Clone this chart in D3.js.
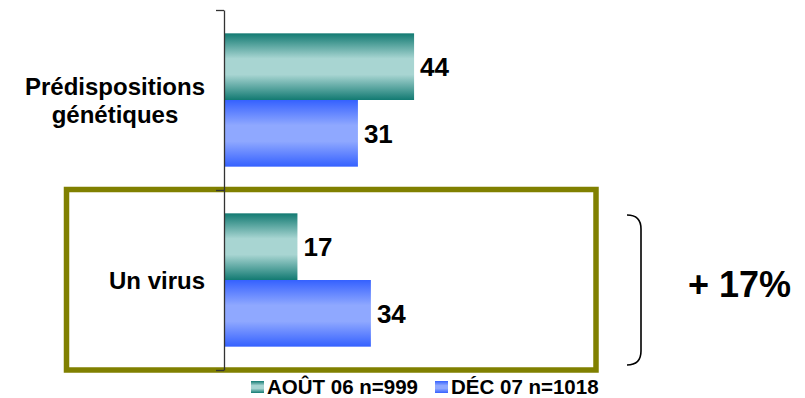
<!DOCTYPE html>
<html>
<head>
<meta charset="utf-8">
<script src="https://cdn.jsdelivr.net/npm/d3@7"></script>
<style>
  body { margin: 0; background: #fff; }
  text { font-family: Arial, "Liberation Sans", sans-serif; font-weight: bold; fill: #000; }
</style>
</head>
<body>
<div id="vis"></div>
<script>
// data
const categories = ['Prédispositions génétiques', 'Un virus'];
const categoryLines = [['Prédispositions', 'génétiques'], ['Un virus']];
const seriesNames = ['AOÛT 06 n=999', 'DÉC 07 n=1018'];
const aout06 = [44, 17];
const dec07 = [31, 34];
const highlightLabel = '+ 17%';

const width = 805;
const height = 398;

const svg = d3.select('#vis')
    .append('svg')
    .attr('width', width)
    .attr('height', height);

// gradients, dark edges and light middle
const defs = svg.append('defs');
const gradStops = [
    ['gradTeal', '#127a72', '#a8d5d2'],
    ['gradBlue', '#3561ff', '#8fa8ff']
];
gradStops.forEach(([id, edge, mid]) => {
    const g = defs.append('linearGradient')
        .attr('id', id)
        .attr('x1', 0).attr('y1', 0)
        .attr('x2', 0).attr('y2', 1);
    [[0, edge], [0.38, mid], [0.62, mid], [1, edge]].forEach(([o, c]) => {
        g.append('stop').attr('offset', o).attr('stop-color', c);
    });
});
const fills = ['url(#gradTeal)', 'url(#gradBlue)'];

const rows = categories.map((c, i) => ({
    key: c,
    lines: categoryLines[i],
    values: [aout06[i], dec07[i]]
}));

// scales
const x = d3.scaleLinear()
    .domain([0, 50])
    .range([224, 440]);

const y = d3.scaleBand()
    .domain(categories)
    .range([10, 370])
    .padding(0);

const ySeries = d3.scaleBand()
    .domain(seriesNames)
    .range([0, y.bandwidth()])
    .paddingInner(0)
    .paddingOuter(0.35);

// highlight box round the second category
svg.append('rect')
    .attr('x', 66.5)
    .attr('y', y(categories[1]) - 0.5)
    .attr('width', 529.5)
    .attr('height', y.bandwidth() + 0.5)
    .attr('fill', 'none')
    .attr('stroke', '#808000')
    .attr('stroke-width', 5.5);

// bars
const groups = svg.append('g')
    .selectAll('g')
    .data(rows)
    .join('g')
    .attr('transform', d => `translate(0,${y(d.key)})`);

groups.selectAll('rect')
    .data(d => d.values.map((v, i) => ({ name: seriesNames[i], value: v, i })))
    .join('rect')
    .attr('x', x(0))
    .attr('y', d => ySeries(d.name))
    .attr('width', d => x(d.value) - x(0))
    .attr('height', ySeries.bandwidth())
    .attr('fill', d => fills[d.i]);

groups.selectAll('text.val')
    .data(d => d.values.map((v, i) => ({ name: seriesNames[i], value: v })))
    .join('text')
    .attr('class', 'val')
    .attr('x', d => x(d.value) + 6)
    .attr('y', d => ySeries(d.name) + ySeries.bandwidth() / 2 + 9.5)
    .style('font-size', '26px')
    .text(d => d.value);

// axis with ticks at category edges
const yEdge = d3.scaleLinear()
    .domain([0, categories.length])
    .range([10, 370]);

const axisG = svg.append('g')
    .attr('transform', `translate(${x(0)},0)`)
    .call(d3.axisLeft(yEdge)
        .tickValues(d3.range(categories.length + 1))
        .tickSize(8)
        .tickSizeOuter(0)
        .tickFormat(''));
axisG.select('.domain').attr('stroke', '#333').attr('stroke-width', 1.3);
axisG.selectAll('.tick line').attr('stroke', '#333').attr('stroke-width', 1.3);

// category labels, each block centred, right edge at 205
svg.append('g')
    .selectAll('text')
    .data(rows)
    .join('text')
    .style('font-size', '24px')
    .attr('text-anchor', 'middle')
    .each(function(d) {
        const t = d3.select(this);
        const n = d.lines.length;
        const cy = y(d.key) + y.bandwidth() / 2;
        d.lines.forEach((line, j) => {
            t.append('tspan')
                .attr('y', cy + 8.5 + (j - (n - 1) / 2) * 28)
                .text(line);
        });
        let maxW = 0;
        t.selectAll('tspan').each(function() {
            maxW = Math.max(maxW, this.getComputedTextLength());
        });
        t.selectAll('tspan').attr('x', 205 - maxW / 2);
    });

// brace and percentage
const braceTop = 215, braceBot = 365, bx0 = 627, bx1 = 641;
svg.append('path')
    .attr('d', `M${bx0},${braceTop} Q${bx1},${braceTop} ${bx1},${braceTop + 14}
        L${bx1},${braceBot - 14} Q${bx1},${braceBot} ${bx0},${braceBot}`)
    .attr('fill', 'none')
    .attr('stroke', '#000')
    .attr('stroke-width', 1.6);

svg.append('text')
    .attr('x', 688)
    .attr('y', 297)
    .style('font-size', '36px')
    .text(highlightLabel);

// legend
const legendX = [251, 435];
const legend = svg.append('g')
    .selectAll('g')
    .data(seriesNames)
    .join('g')
    .attr('transform', (d, i) => `translate(${legendX[i]},381)`);

legend.append('rect')
    .attr('width', 13)
    .attr('height', 12)
    .attr('fill', (d, i) => fills[i]);

legend.append('text')
    .attr('x', 16)
    .attr('y', 12.5)
    .style('font-size', '20.5px')
    .text(d => d);
</script>
</body>
</html>
